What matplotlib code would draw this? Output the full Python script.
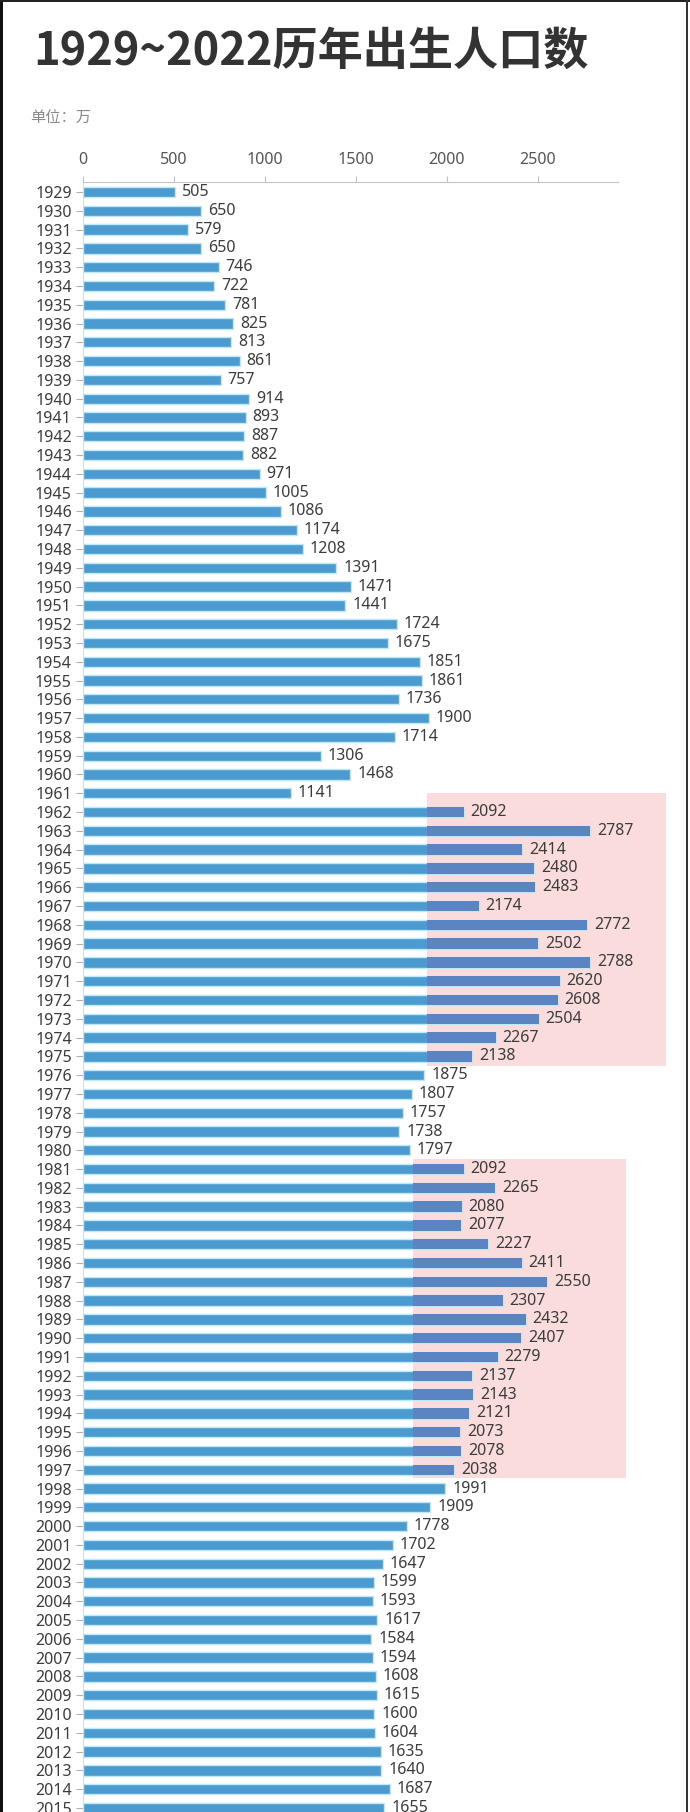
import matplotlib.pyplot as plt
from matplotlib.patches import Rectangle

plt.rcParams['font.family'] = ['Noto Sans CJK SC', 'DejaVu Sans']

# 历年出生人口 (万), 1929-2015 (图片底部截断)
years = list(range(1929, 2016))
births = [505, 650, 579, 650, 746, 722, 781, 825, 813, 861,
          757, 914, 893, 887, 882, 971, 1005, 1086, 1174, 1208,
          1391, 1471, 1441, 1724, 1675, 1851, 1861, 1736, 1900, 1714,
          1306, 1468, 1141, 2092, 2787, 2414, 2480, 2483, 2174, 2772,
          2502, 2788, 2620, 2608, 2504, 2267, 2138, 1875, 1807, 1757,
          1738, 1797, 2092, 2265, 2080, 2077, 2227, 2411, 2550, 2307,
          2432, 2407, 2279, 2137, 2143, 2121, 2073, 2078, 2038, 1991,
          1909, 1778, 1702, 1647, 1599, 1593, 1617, 1584, 1594, 1608,
          1615, 1600, 1604, 1635, 1640, 1687, 1655]
xticks = [0, 500, 1000, 1500, 2000, 2500]

# 高亮区域: (x起, x止, 行起, 行止)
highlights = [(1890, 3203, 32.0, 46.5),
              (1813, 2984, 51.45, 68.45)]

W, H = 690, 1812
fig = plt.figure(figsize=(W / 100, H / 100), dpi=100)
fig.patch.set_facecolor('white')

row = 18.79
top_px = 182
first_px = 192
y_top = (top_px - first_px) / row
y_bot = 86.6
bot_px = first_px + y_bot * row
ax = fig.add_axes([83 / W, (H - bot_px) / H, 535 / W, (bot_px - top_px) / H])

pos = list(range(len(years)))

bars = ax.barh(pos, births, height=0.55, color='#4b9bd1',
               edgecolor='#bde8f5', linewidth=1.0, zorder=2)

for x0, x1, r0, r1 in highlights:
    rect = Rectangle((x0, r0), x1 - x0, r1 - r0, facecolor='#fadcdc',
                     edgecolor='none', zorder=1, clip_on=False)
    ax.add_patch(rect)
    over = ax.barh(pos, births, height=0.55, color='#5b84c3',
                   edgecolor='none', zorder=3)
    for b in over:
        b.set_clip_path(rect)

for i, v in enumerate(births):
    ax.text(v + 38, i, str(v), va='center', ha='left', fontsize=11.5,
            color='#3c3c3c', family=['Noto Sans', 'DejaVu Sans'], zorder=4)

ax.set_xlim(0, 2940)
ax.set_ylim(y_bot, y_top)
ax.xaxis.tick_top()
ax.set_xticks(xticks)
ax.set_xticklabels([str(t) for t in xticks], family=['Noto Sans', 'DejaVu Sans'])
ax.set_yticks(pos)
ax.set_yticklabels([str(y) for y in years], family=['Noto Sans', 'DejaVu Sans'])
ax.tick_params(axis='x', length=4, color='#c0c0c0', labelsize=11.5,
               labelcolor='#555555', pad=6)
ax.tick_params(axis='y', length=5, color='#b0b0b0', labelsize=11.5,
               labelcolor='#3c3c3c', pad=3)
for s in ['right', 'bottom']:
    ax.spines[s].set_visible(False)
ax.spines['top'].set_color('#c4c4c4')
ax.spines['left'].set_color('#dcdcdc')
ax.set_facecolor('none')

fig.text(33 / W, 1 - 52 / H, '1929~2022历年出生人口数', fontsize=32.5,
         fontweight='bold', color='#333333', va='center', ha='left')
fig.text(30 / W, 1 - 118 / H, '单位：万', fontsize=11, color='#8a8a8a',
         va='center', ha='left')

# 截图的边框
fig.patches.append(Rectangle((0, 0), 3 / W, 1, transform=fig.transFigure,
                             facecolor='#111111', edgecolor='none'))
fig.patches.append(Rectangle((0, 1 - 1.5 / H), 1, 1.5 / H, transform=fig.transFigure,
                             facecolor='#222222', edgecolor='none'))
fig.patches.append(Rectangle((686 / W, 0), 1.5 / W, 1, transform=fig.transFigure,
                             facecolor='#333333', edgecolor='none'))

fig.savefig('out.png', dpi=100)
